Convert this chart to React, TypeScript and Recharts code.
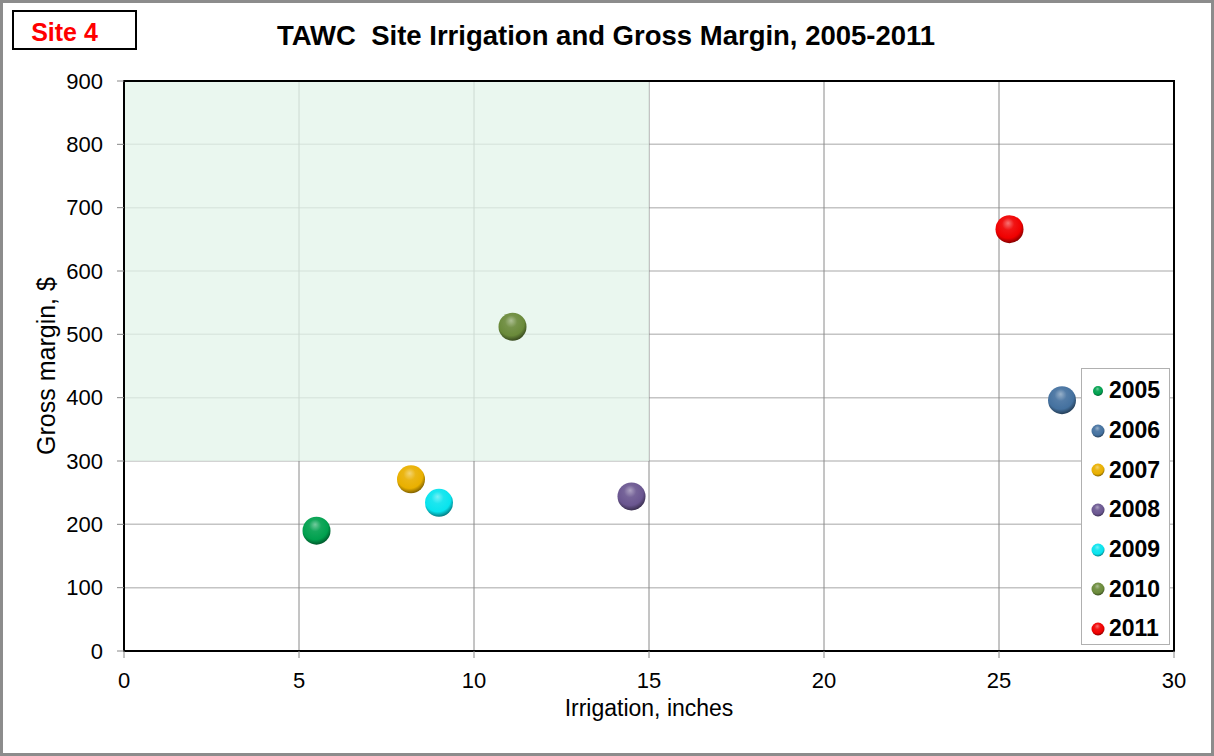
import React from "react"
import {
  ScatterChart,
  Scatter,
  XAxis,
  YAxis,
  CartesianGrid,
  ReferenceArea,
  Label,
} from "recharts"

const years = ["2005", "2006", "2007", "2008", "2009", "2010", "2011"]
const irrigation = [5.5, 26.8, 8.2, 14.5, 9.0, 11.1, 25.3]
const grossMargin = [190, 396, 271, 244, 234, 512, 666]
const colors = ["#00a04e", "#44719f", "#e9b000", "#6a5690", "#08e4ee", "#6a8a3a", "#f00000"]
const xTicks = [0, 5, 10, 15, 20, 25, 30]
const yTicks = [0, 100, 200, 300, 400, 500, 600, 700, 800, 900]

const FONT = "'Liberation Sans', Arial, sans-serif"

// mix a hex colour towards white (amt > 0) or black (amt < 0)
function shade(hex: string, amt: number) {
  const n = parseInt(hex.slice(1), 16)
  const ch = [(n >> 16) & 255, (n >> 8) & 255, n & 255].map((c) =>
    Math.round(amt > 0 ? c + (255 - c) * amt : c * (1 + amt))
  )
  return "#" + ch.map((c) => c.toString(16).padStart(2, "0")).join("")
}

function BallGradient({ id, color }: { id: string; color: string }) {
  return (
    <radialGradient id={id} cx="45%" cy="38%" r="62%" fx="45%" fy="28%">
      <stop offset="0%" stopColor={shade(color, 0.45)} />
      <stop offset="35%" stopColor={shade(color, 0.08)} />
      <stop offset="75%" stopColor={color} />
      <stop offset="100%" stopColor={shade(color, -0.45)} />
    </radialGradient>
  )
}

function Sphere(props: any) {
  const { cx, cy, index } = props
  if (cx == null || cy == null) return null
  return <circle cx={cx} cy={cy} r={14} fill={`url(#ball-${index})`} />
}

function LegendBox() {
  return (
    <div
      style={{
        position: "absolute",
        left: 1081,
        top: 368,
        width: 89,
        height: 277,
        border: "1px solid #b0b0b0",
        background: "#fff",
        boxSizing: "border-box",
        paddingTop: 2,
      }}
    >
      {years.map((y, i) => (
        <div key={y} style={{ display: "flex", alignItems: "center", height: 39.7 }}>
          <svg width={27} height={20}>
            <defs>
              <BallGradient id={`lg-${i}`} color={colors[i]} />
            </defs>
            <circle cx={16} cy={10} r={i === 0 ? 5 : 6.5} fill={`url(#lg-${i})`} />
          </svg>
          <span style={{ fontFamily: FONT, fontWeight: "bold", fontSize: 23, color: "#000" }}>{y}</span>
        </div>
      ))}
    </div>
  )
}

export default function App() {
  return (
    <div style={{ position: "absolute", left: 0, top: 0, width: 1214, height: 756, background: "#fff" }}>
      <ScatterChart width={1214} height={756} margin={{ top: 81, right: 40, bottom: 0, left: 64 }}>
        <defs>
          {colors.map((c, i) => (
            <BallGradient key={i} id={`ball-${i}`} color={c} />
          ))}
        </defs>
        <ReferenceArea x1={0} x2={15} y1={300} y2={900} fill="#e3f4ea" fillOpacity={0.75} stroke="none" />
        <CartesianGrid horizontal vertical={false} stroke="#c4c4c4" strokeWidth={1.5} />
        <CartesianGrid horizontal={false} vertical stroke="#8a8a8a" strokeWidth={1} />
        <XAxis
          type="number"
          dataKey="x"
          domain={[0, 30]}
          ticks={xTicks}
          interval={0}
          height={105}
          tickSize={7}
          tickMargin={14}
          stroke="#000"
          strokeWidth={2}
          tick={{ fontSize: 22, fill: "#000", fontFamily: FONT }}
          tickLine={{ stroke: "#888", strokeWidth: 1 }}
        >
          <Label
            value="Irrigation, inches"
            position="insideBottom"
            offset={40}
            style={{ fontSize: 23, fill: "#000", fontFamily: FONT }}
          />
        </XAxis>
        <YAxis
          type="number"
          dataKey="y"
          domain={[0, 900]}
          ticks={yTicks}
          interval={0}
          width={60}
          tickSize={7}
          tickMargin={14}
          stroke="#000"
          strokeWidth={2}
          tick={{ fontSize: 22, fill: "#000", fontFamily: FONT }}
          tickLine={{ stroke: "#888", strokeWidth: 1 }}
        >
          <Label
            value="Gross margin, $"
            angle={-90}
            position="insideLeft"
            offset={-18}
            style={{ fontSize: 25, fill: "#000", fontFamily: FONT, textAnchor: "middle" }}
          />
        </YAxis>
        <ReferenceArea x1={0} x2={30} y1={0} y2={900} fill="none" stroke="#000" strokeWidth={2} />
        {years.map((y, i) => (
          <Scatter
            key={y}
            name={y}
            data={[{ x: irrigation[i], y: grossMargin[i] }]}
            fill={colors[i]}
            isAnimationActive={false}
            shape={(p: any) => <Sphere {...p} index={i} />}
          />
        ))}
      </ScatterChart>
      <LegendBox />
      <div
        style={{
          position: "absolute",
          left: 12,
          top: 10,
          width: 125,
          height: 40,
          border: "2px solid #000",
          boxSizing: "border-box",
          display: "flex",
          alignItems: "center",
          justifyContent: "center",
          paddingTop: 5,
          paddingRight: 20,
          fontFamily: FONT,
          fontWeight: "bold",
          fontSize: 25,
          color: "#ff0000",
        }}
      >
        Site 4
      </div>
      <div
        style={{
          position: "absolute",
          left: 277,
          top: 20,
          whiteSpace: "pre",
          fontFamily: FONT,
          fontWeight: "bold",
          fontSize: 27.5,
          color: "#000",
        }}
      >
        TAWC  Site Irrigation and Gross Margin, 2005-2011
      </div>
      <div
        style={{
          position: "absolute",
          left: 0,
          top: 0,
          width: 1214,
          height: 756,
          border: "3px solid #8c8c8c",
          boxSizing: "border-box",
          pointerEvents: "none",
        }}
      />
    </div>
  )
}
